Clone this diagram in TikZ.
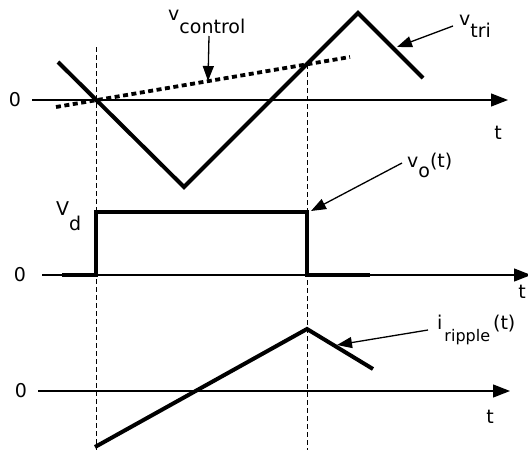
\documentclass[tikz,border=0pt]{standalone}
\usepackage{fontspec}
\setmainfont{DejaVu Sans}
\usetikzlibrary{arrows.meta}
\begin{document}
\begin{tikzpicture}[x=1pt,y=-1pt,
  axis/.style={line width=1.3pt,-{Triangle[length=17pt,width=13pt]}},
  sig/.style={line width=4pt,line cap=butt,line join=miter},
  guide/.style={line width=1pt,dash pattern=on 5pt off 3pt},
  ctrl/.style={line width=3.8pt,dash pattern=on 5pt off 3.5pt},
  lbl/.style={inner sep=0pt,font=\fontsize{19}{19}\selectfont},
  pointer/.style={line width=1.3pt,-{Triangle[length=15pt,width=11pt]}}]
\useasboundingbox (0,0) rectangle (528,450);
\clip (0,0) rectangle (528,450);
% axes
\coordinate (a1s) at (32,100);  \coordinate (a1e) at (508,100);
\coordinate (a2s) at (42,275);  \coordinate (a2e) at (531,275);
\coordinate (a3s) at (38,391);  \coordinate (a3e) at (510,391);
\draw[axis] (a1s) -- (a1e);
\draw[axis] (a2s) -- (a2e);
\draw[axis] (a3s) -- (a3e);
% guides
\coordinate (g1t) at (96,47);  \coordinate (g1b) at (96,452);
\coordinate (g2t) at (307,64); \coordinate (g2b) at (307,452);
\draw[guide] (g1t) -- (g1b);
\draw[guide] (g2t) -- (g2b);
% triangle
\coordinate (t0) at (58,62); \coordinate (t1) at (184,187);
\coordinate (t2) at (358,13); \coordinate (t3) at (423,78);
\draw[sig] (t0) -- (t1) -- (t2) -- (t3);
% control
\coordinate (c0) at (56,107); \coordinate (c1) at (350,57);
\draw[ctrl] (c0) -- (c1);
% pulse
\coordinate (p0) at (62,275); \coordinate (p1) at (96,275);
\coordinate (p2) at (96,212); \coordinate (p3) at (307,212);
\coordinate (p4) at (307,275); \coordinate (p5) at (370,275);
\draw[sig] (p0) -- (p1) -- (p2) -- (p3) -- (p4) -- (p5);
% ripple
\coordinate (r0) at (95,447); \coordinate (r1) at (307,329); \coordinate (r2) at (373,369);
\draw[sig] (r0) -- (r1) -- (r2);
% zero labels and t labels
\node[lbl] (z1) at (15,100) {0};
\node[lbl] (z2) at (20,275) {0};
\node[lbl] (z3) at (21,391) {0};
\node[lbl] (tt1) at (498,133) {t};
\node[lbl] (tt2) at (522,292) {t};
\node[lbl] (tt3) at (490,417) {t};
% named labels
\node[lbl,anchor=base west] (vc) at (168,20) {v\raisebox{-13pt}{control}};
\node[lbl,anchor=base west] (vt) at (459,25) {v\raisebox{-12pt}{tri}};
\node[lbl,anchor=base west] (vo) at (407,167) {v\raisebox{-10pt}{o}(t)};
\node[lbl,anchor=base west] (vd) at (56,215) {V\raisebox{-15pt}{d}};
\node[lbl,anchor=base west] (ir) at (437,329) {i\hspace{2pt}\raisebox{-12pt}{\fontsize{16}{16}\selectfont ripple}\hspace{3pt}(t)};
% pointers
\coordinate (vcs) at (209,36); \coordinate (vce) at (208,81);
\coordinate (vts) at (453,26); \coordinate (vte) at (397,47);
\coordinate (vos) at (402,163); \coordinate (voe) at (311,211);
\coordinate (irs) at (428,330); \coordinate (ire) at (337,345);
\draw[pointer] (vcs) -- (vce);
\draw[pointer] (vts) -- (vte);
\draw[pointer] (vos) -- (voe);
\draw[pointer] (irs) -- (ire);
\end{tikzpicture}
\end{document}
